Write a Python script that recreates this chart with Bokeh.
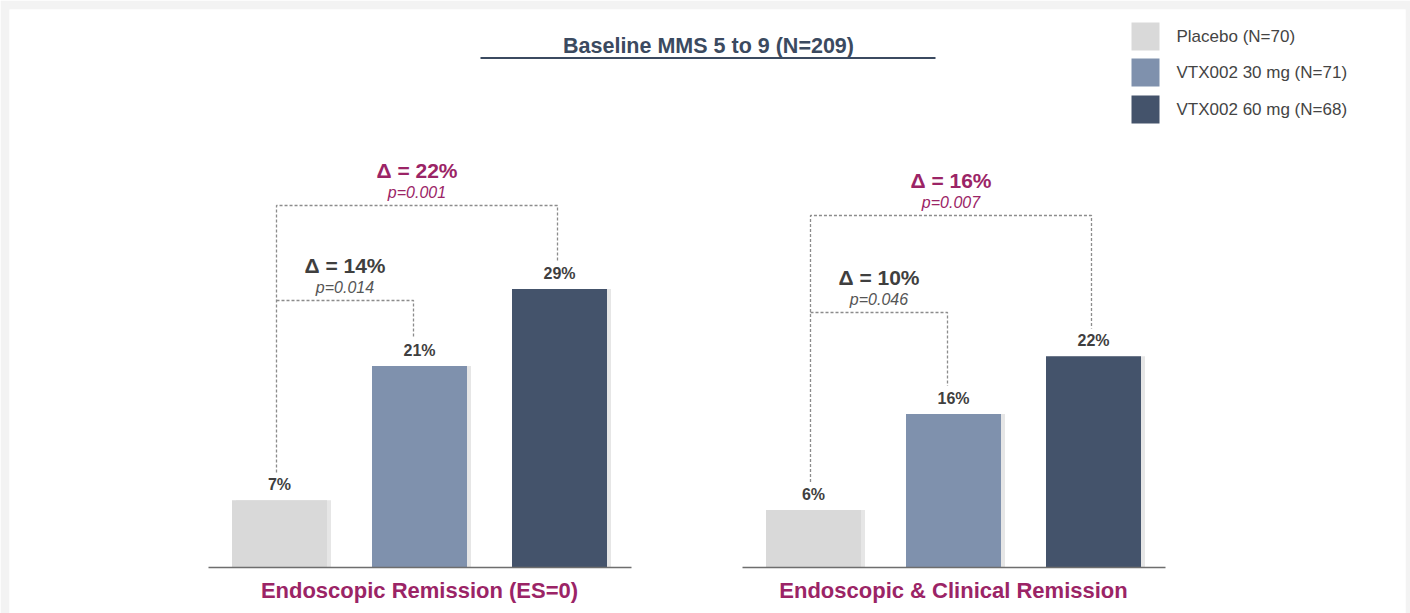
from bokeh.plotting import figure
from bokeh.models import Range1d, ColumnDataSource
from bokeh.core.properties import value
from bokeh.embed import file_html
from bokeh.resources import INLINE

# ---------------- data ----------------
groups = ["Endoscopic Remission (ES=0)", "Endoscopic & Clinical Remission"]
arms = ["Placebo (N=70)", "VTX002 30 mg (N=71)", "VTX002 60 mg (N=68)"]
endo_remission = [7, 21, 29]
endo_clin_remission = [6, 16, 22]
deltas_30 = ["Δ = 14%", "Δ = 10%"]
pvals_30 = ["p=0.014", "p=0.046"]
deltas_60 = ["Δ = 22%", "Δ = 16%"]
pvals_60 = ["p=0.001", "p=0.007"]
title_text = "Baseline MMS 5 to 9 (N=209)"

# ---------------- style / layout ----------------
colors = ["#d9d9d9", "#7f91ad", "#44536b"]
MAGENTA = "#9b2466"
DARK = "#3f3f3f"
NAVY = "#3b4a60"
DASH = "#8c8c8c"
FONT = "Liberation Sans"

W, H = 1410, 613
BASE_PY = 567.0
PX_PER = 9.6


def v(py):  # layout helper: pixel row -> value units
    return (BASE_PY - py) / PX_PER


group_centers = [419, 953]
spacing = 140
bar_w = 95
series = [endo_remission, endo_clin_remission]
outer_py = [205, 215]
inner_py = [300, 312]

p = figure(width=W, height=H, output_backend="svg", toolbar_location=None,
           x_range=Range1d(9, 1405), y_range=Range1d(v(613), v(9)),
           x_axis_location=None, y_axis_location=None,
           min_border_left=9, min_border_right=5, min_border_top=9, min_border_bottom=0)
p.grid.visible = False
p.outline_line_color = None
p.background_fill_color = "white"
p.border_fill_color = "#f3f3f3"

for g, (gc, vals) in enumerate(zip(group_centers, series)):
    xs = [gc + (i - 1) * spacing for i in range(3)]
    src = ColumnDataSource(dict(x=xs, top=vals, color=colors,
                                label=[f"{val}%" for val in vals],
                                sx=[x + 4 for x in xs]))
    # soft shadow
    p.vbar(x="sx", top="top", width=bar_w, bottom=0, source=src,
           fill_color="#9a9a9a", fill_alpha=0.25, line_color=None)
    p.vbar(x="x", top="top", width=bar_w, bottom=0, source=src,
           fill_color="color", line_color=None)
    p.text(x="x", y="top", text="label", source=src, text_align="center",
           text_baseline="bottom", y_offset=-7, text_font=value(FONT),
           text_font_size="16px", text_font_style="bold", text_color=DARK)
    # baseline
    p.segment(x0=[gc - 211], x1=[gc + 212], y0=[0], y1=[0],
              line_color="#6e6e6e", line_width=1.6)
    # category label
    p.text(x=[gc], y=[v(590)], text=[groups[g]], text_align="center",
           text_baseline="middle", text_font=value(FONT), text_font_size="22px",
           text_font_style="bold", text_color=MAGENTA)

    # brackets
    bx = [xs[0] - 3, xs[1] - 6, xs[2] - 2]
    top_o = v(outer_py[g])
    top_i = v(inner_py[g])
    gap = 2.9
    # outer bracket (placebo vs 60 mg)
    p.line(x=[bx[0], bx[0], bx[2], bx[2]],
           y=[vals[0] + gap, top_o, top_o, vals[2] + gap],
           line_color=DASH, line_width=1.3, line_dash="3 2")
    # inner bracket (placebo vs 30 mg)
    p.line(x=[bx[0], bx[1], bx[1]], y=[top_i, top_i, vals[1] + gap],
           line_color=DASH, line_width=1.3, line_dash="3 2")

    mid_o = (bx[0] + bx[2]) / 2
    mid_i = (bx[0] + bx[1]) / 2
    p.text(x=[mid_o], y=[top_o], text=[deltas_60[g]], text_align="center",
           text_baseline="middle", y_offset=-35, text_font=value(FONT),
           text_font_size="21px", text_font_style="bold", text_color=MAGENTA)
    p.text(x=[mid_o], y=[top_o], text=[pvals_60[g]], text_align="center",
           text_baseline="middle", y_offset=-13, text_font=value(FONT),
           text_font_size="16px", text_font_style="italic", text_color=MAGENTA)
    p.text(x=[mid_i], y=[top_i], text=[deltas_30[g]], text_align="center",
           text_baseline="middle", y_offset=-35, text_font=value(FONT),
           text_font_size="21px", text_font_style="bold", text_color=DARK)
    p.text(x=[mid_i], y=[top_i], text=[pvals_30[g]], text_align="center",
           text_baseline="middle", y_offset=-13, text_font=value(FONT),
           text_font_size="16px", text_font_style="italic", text_color="#555555")

# title with underline
p.text(x=[708], y=[v(45)], text=[title_text], text_align="center",
       text_baseline="middle", text_font=value(FONT), text_font_size="21.5px",
       text_font_style="bold", text_color=NAVY)
p.segment(x0=[480], x1=[935], y0=[v(57.5)], y1=[v(57.5)], line_color=NAVY, line_width=2.2)

# legend
leg_y = [v(36), v(72), v(109)]
lsrc = ColumnDataSource(dict(x=[1145] * 3, y=leg_y, color=colors, label=arms,
                             tx=[1176] * 3))
p.rect(x="x", y="y", width=28, height=28 / PX_PER, source=lsrc,
       fill_color="color", line_color=None)
p.text(x="tx", y="y", text="label", source=lsrc, text_baseline="middle",
       text_font=value(FONT), text_font_size="17px", text_color="#444444")

open("out.html", "w").write(file_html(p, INLINE))
